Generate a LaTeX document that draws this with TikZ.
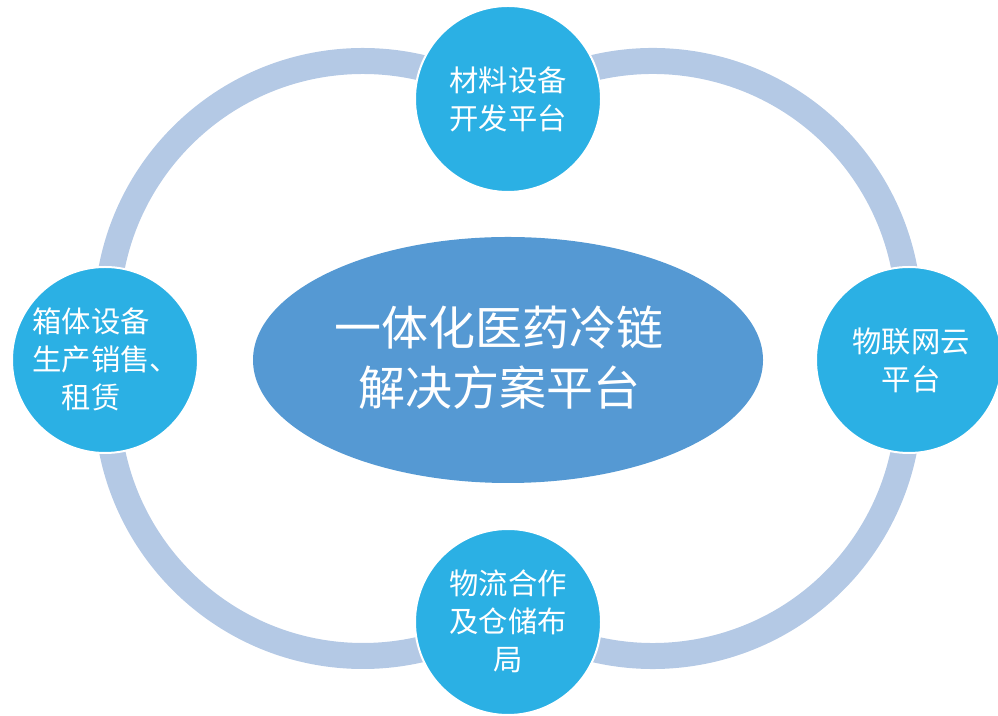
\documentclass[tikz,border=0pt]{standalone}
\usepackage{fontspec}
\newfontfamily\cjk{Noto Sans CJK SC}
\usetikzlibrary{shapes.geometric}
\definecolor{ringc}{HTML}{B4C9E5}
\definecolor{circc}{HTML}{2BB0E4}
\definecolor{ellc}{HTML}{5599D3}
\begin{document}
\begin{tikzpicture}[x=0.75pt,y=0.75pt,
  ring/.style={draw=ringc,line width=19.5pt},
  satellite/.style={circle,fill=circc,draw=white,line width=1.5pt,minimum size=139.5pt,inner sep=0pt},
  hub/.style={ellipse,fill=ellc,minimum width=382.5pt,minimum height=184.5pt,inner sep=0pt},
  sattext/.style={text=white,font=\cjk\fontsize{22}{28.5}\selectfont,align=center,inner sep=0pt},
  hubtext/.style={text=white,font=\cjk\fontsize{35.25}{45}\selectfont,align=center,inner sep=0pt}]
\useasboundingbox (0,0) rectangle (998,716);
% ring arcs
\draw[ring] (363,399) ++(180:256) arc (180:55:256);
\draw[ring] (653,399) ++(125:256) arc (125:0:256);
\draw[ring] (363,316) ++(180:256) arc (180:305:256);
\draw[ring] (653,316) ++(235:256) arc (235:360:256);
% nodes
\node[hub] (hub) at (508,356) {};
\node[satellite] (top) at (508,617) {};
\node[satellite] (left) at (105,356) {};
\node[satellite] (right) at (909,356) {};
\node[satellite] (bottom) at (508,94) {};
% texts
\node[hubtext] (hubtext) at (499,358) {一体化医药冷链\\解决方案平台};
\node[sattext] (toptext) at (508,617) {材料设备\\开发平台};
\node[sattext] (righttext) at (911,356) {物联网云\\平台};
\node[sattext] (bottomtext) at (508,95) {物流合作\\及仓储布\\局};
\node[sattext] (lefttext) at (91,357) {箱体设备\\\makebox[4em][l]{生产销售、}\\租赁};
\end{tikzpicture}
\end{document}
